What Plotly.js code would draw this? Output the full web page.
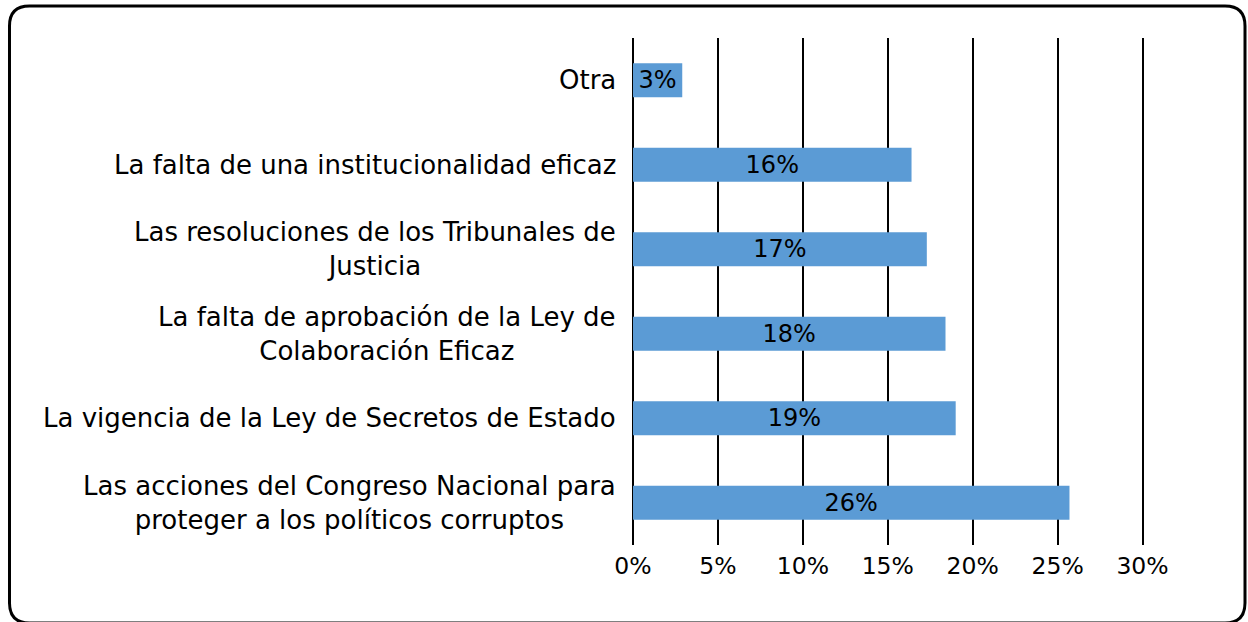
<!DOCTYPE html>
<html>
<head>
<meta charset="utf-8">
<script src="https://cdn.plot.ly/plotly-3.0.1.min.js"></script>
<style>
  html, body { margin: 0; padding: 0; background: #fff; }
  #chart { width: 1248px; height: 622px; }
</style>
</head>
<body>
<div id="chart"></div>
<script>
// ---- data (top to bottom as in the chart) ----
const categories = [
  "Otra",
  "La falta de una institucionalidad eficaz",
  "Las resoluciones de los Tribunales de<br>Justicia",
  "La falta de aprobación de la Ley de<br>Colaboración Eficaz",
  "La vigencia de la Ley de Secretos de Estado",
  "Las acciones del Congreso Nacional para<br>proteger a los políticos corruptos"
];
const values = [2.9, 16.4, 17.3, 18.4, 19.0, 25.7];
const tickValues = [0, 5, 10, 15, 20, 25, 30];
const tickLabels = ["0%", "5%", "10%", "15%", "20%", "25%", "30%"];

// ---- layout constants ----
const W = 1248, H = 622;
const M = { l: 633, r: 97, t: 38, b: 77 };
const PW = W - M.l - M.r, PH = H - M.t - M.b;
const FONT = "DejaVu Sans, Liberation Sans, Arial, sans-serif";

function px2x(px) { return (px - M.l) / PW; }
function py2y(py) { return 1 - (py - M.t) / PH; }

// rounded frame around the chart (pixel based, converted to paper coords)
const fx0 = 9.5, fx1 = 1245, fy0 = 6, fy1 = 623, rad = 20;
function P(x, y) { return px2x(x).toFixed(5) + "," + py2y(y).toFixed(5); }
const framePath =
  "M" + P(fx0 + rad, fy0) +
  " L" + P(fx1 - rad, fy0) +
  " Q" + P(fx1, fy0) + " " + P(fx1, fy0 + rad) +
  " L" + P(fx1, fy1 - rad) +
  " Q" + P(fx1, fy1) + " " + P(fx1 - rad, fy1) +
  " L" + P(fx0 + rad, fy1) +
  " Q" + P(fx0, fy1) + " " + P(fx0, fy1 - rad) +
  " L" + P(fx0, fy0 + rad) +
  " Q" + P(fx0, fy0) + " " + P(fx0 + rad, fy0) + " Z";

const trace = {
  type: "bar",
  orientation: "h",
  x: values,
  y: categories,
  marker: { color: "#5B9BD5", line: { width: 0 } },
  texttemplate: "%{x:.0f}%",
  textposition: "inside",
  insidetextanchor: "middle",
  constraintext: "none",
  textfont: { family: FONT, size: 24, color: "#000" },
  hoverinfo: "skip"
};

const annotations = categories.map(c => ({
  x: 0, xref: "x", y: c, yref: "y",
  text: c,
  xanchor: "right", yanchor: "middle",
  xshift: -15,
  align: "center",
  showarrow: false,
  font: { family: FONT, size: 26, color: "#000" }
}));

const layout = {
  width: W, height: H,
  margin: M,
  paper_bgcolor: "#fff",
  plot_bgcolor: "#fff",
  showlegend: false,
  bargap: 0.6,
  xaxis: {
    range: [0, 30.5],
    tickmode: "array",
    tickvals: tickValues,
    ticktext: tickLabels,
    ticks: "",
    ticklabelstandoff: 4,
    showgrid: true,
    gridcolor: "#000",
    gridwidth: 2,
    zeroline: true,
    zerolinecolor: "#000",
    zerolinewidth: 2,
    showline: false,
    fixedrange: true,
    tickfont: { family: FONT, size: 23.5, color: "#000" }
  },
  yaxis: {
    type: "category",
    autorange: "reversed",
    showticklabels: false,
    showgrid: false,
    zeroline: false,
    showline: false,
    ticks: "",
    fixedrange: true
  },
  annotations: annotations,
  shapes: [{
    type: "path", xref: "paper", yref: "paper",
    path: framePath,
    line: { color: "#000", width: 3 },
    layer: "above"
  }]
};

Plotly.newPlot("chart", [trace], layout, { displayModeBar: false, staticPlot: true });
</script>
</body>
</html>
